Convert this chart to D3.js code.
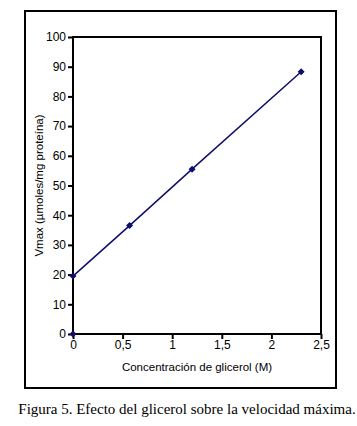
<!DOCTYPE html>
<html lang="es">
<head>
  <meta charset="UTF-8" />
  <title>Figura 5</title>
  <script src="https://d3js.org/d3.v7.min.js"></script>
  <style>
    body { margin: 0; background: #fff; }
    svg { display: block; }
    .tick text { font-family: "Liberation Sans", Arial, sans-serif; font-size: 12px; fill: #000; }
  </style>
</head>
<body>
  <svg id="chart" width="357" height="426"></svg>
  <script>
    // glycerol concentration (M) vs Vmax
    const conc = [0, 0, 0.57, 1.2, 2.3];
    const vmax = [0, 19.5, 36.5, 55.5, 88.3];
    const xTicks = [0, 0.5, 1, 1.5, 2, 2.5];
    const yTicks = [0, 10, 20, 30, 40, 50, 60, 70, 80, 90, 100];
    const xTitle = "Concentración de glicerol (M)";
    const yTitle = "Vmax (µmoles/mg proteína)";
    const caption = "Figura 5. Efecto del glicerol sobre la velocidad máxima.";

    const svg = d3.select("#chart");
    const navy = "#0e0e6a";
    const margin = { left: 73, right: 321, top: 37, bottom: 334 };

    const x = d3.scaleLinear().domain([0, 2.5]).range([margin.left, margin.right]);
    const y = d3.scaleLinear().domain([0, 100]).range([margin.bottom, margin.top]);

    const points = conc.map((c, i) => ({ x: c, y: vmax[i] }));

    // outer frame
    svg.append("rect")
      .attr("x", 25).attr("y", 11)
      .attr("width", 311).attr("height", 377)
      .attr("fill", "none").attr("stroke", "#000").attr("stroke-width", 2);

    // plot box
    svg.append("rect")
      .attr("x", margin.left).attr("y", margin.top)
      .attr("width", margin.right - margin.left).attr("height", margin.bottom - margin.top)
      .attr("fill", "none").attr("stroke", "#000").attr("stroke-width", 2);

    const fmt = d => String(d).replace(".", ",");

    const xAxis = svg.append("g")
      .attr("transform", `translate(0,${margin.bottom})`)
      .call(d3.axisBottom(x).tickValues(xTicks).tickFormat(fmt).tickSize(5).tickPadding(1));
    xAxis.select(".domain").remove();
    xAxis.selectAll(".tick line").attr("stroke-width", 2);

    const yAxis = svg.append("g")
      .attr("transform", `translate(${margin.left},0)`)
      .call(d3.axisLeft(y).tickValues(yTicks).tickSize(5).tickPadding(2));
    yAxis.select(".domain").remove();
    yAxis.selectAll(".tick line").attr("stroke-width", 2);

    // line through the non-zero points
    const line = d3.line().x(d => x(d.x)).y(d => y(d.y));
    svg.append("path")
      .datum(points.slice(1))
      .attr("d", line)
      .attr("fill", "none")
      .attr("stroke", navy)
      .attr("stroke-width", 1.5);

    svg.append("g")
      .selectAll("path")
      .data(points)
      .join("path")
      .attr("transform", d => `translate(${x(d.x)},${y(d.y)})`)
      .attr("d", "M0,-3.5 L3.5,0 L0,3.5 L-3.5,0 Z")
      .attr("fill", navy);

    svg.append("text")
      .attr("x", (margin.left + margin.right) / 2)
      .attr("y", 371)
      .attr("text-anchor", "middle")
      .attr("font-family", "Liberation Sans, Arial, sans-serif")
      .attr("font-size", 11.5)
      .text(xTitle);

    svg.append("text")
      .attr("transform", `translate(43,${(margin.top + margin.bottom) / 2}) rotate(-90)`)
      .attr("text-anchor", "middle")
      .attr("font-family", "Liberation Sans, Arial, sans-serif")
      .attr("font-size", 11.5)
      .text(yTitle);

    svg.append("text")
      .attr("x", 187)
      .attr("y", 414)
      .attr("text-anchor", "middle")
      .attr("font-family", "Liberation Serif, Times New Roman, serif")
      .attr("font-size", 15)
      .text(caption);
  </script>
</body>
</html>
